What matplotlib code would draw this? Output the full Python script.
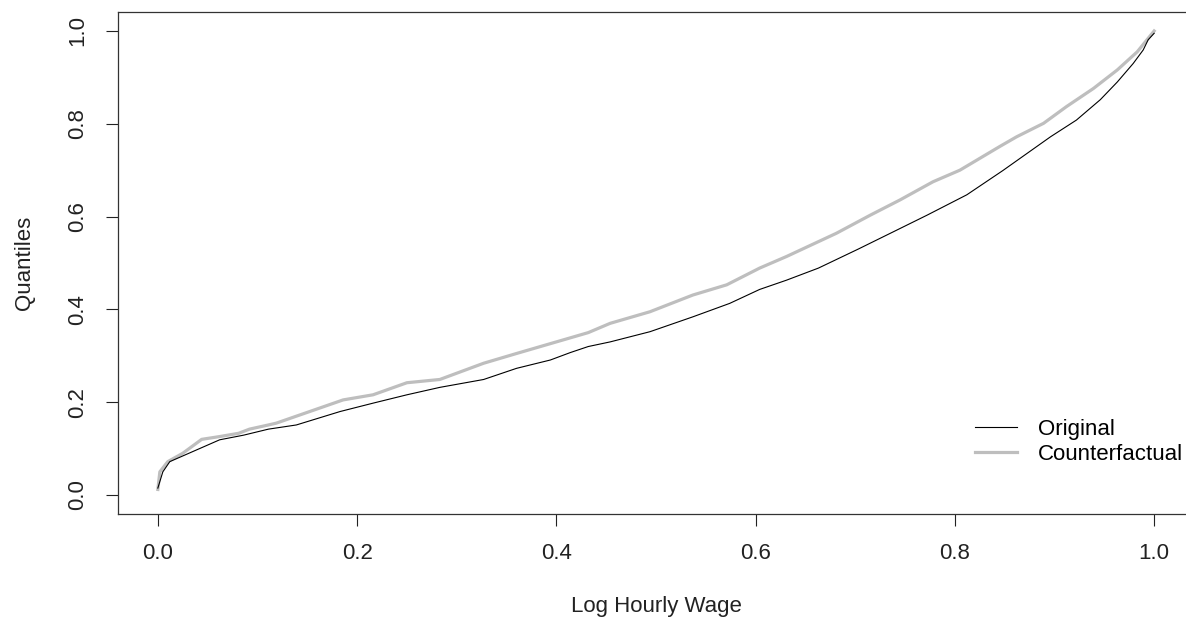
import matplotlib
matplotlib.use("Agg")
import matplotlib.pyplot as plt
import numpy as np

# Quantile curves
orig_x = [0.0, 0.005, 0.012, 0.062, 0.086, 0.111, 0.139, 0.183, 0.216, 0.25,
          0.283, 0.327, 0.36, 0.394, 0.414, 0.432, 0.454, 0.494, 0.537, 0.574,
          0.604, 0.631, 0.663, 0.703, 0.738, 0.772, 0.812, 0.848, 0.896, 0.922,
          0.946, 0.963, 0.979, 0.989, 0.994, 1.0]
orig_q = [0.015, 0.05, 0.072, 0.119, 0.129, 0.142, 0.151, 0.18, 0.198, 0.216,
          0.232, 0.249, 0.273, 0.291, 0.307, 0.32, 0.33, 0.352, 0.384, 0.413,
          0.443, 0.463, 0.489, 0.53, 0.567, 0.603, 0.647, 0.699, 0.772, 0.808,
          0.852, 0.89, 0.93, 0.959, 0.981, 0.995]

cf_x = [0.0, 0.002, 0.01, 0.025, 0.044, 0.062, 0.081, 0.092, 0.111, 0.119,
        0.186, 0.216, 0.25, 0.283, 0.327, 0.36, 0.4, 0.432, 0.454, 0.494,
        0.537, 0.571, 0.604, 0.631, 0.663, 0.681, 0.715, 0.745, 0.778, 0.805,
        0.845, 0.862, 0.889, 0.912, 0.939, 0.963, 0.983, 1.0]
cf_q = [0.012, 0.05, 0.072, 0.09, 0.12, 0.126, 0.133, 0.142, 0.151, 0.155,
        0.205, 0.216, 0.242, 0.249, 0.284, 0.305, 0.33, 0.35, 0.37, 0.395,
        0.431, 0.453, 0.489, 0.514, 0.546, 0.564, 0.603, 0.636, 0.675, 0.7,
        0.751, 0.772, 0.801, 0.837, 0.876, 0.916, 0.955, 1.0]

ticks = [0.0, 0.2, 0.4, 0.6, 0.8, 1.0]

plt.rcParams['font.family'] = ['Liberation Sans', 'DejaVu Sans']

W, H = 1186, 617
FS = 16
fig = plt.figure(figsize=(W / 100, H / 100), dpi=100)
# R style plot region: axis extends 4% beyond data, right edge cut off by the image
ax = fig.add_axes([118 / W, (H - 513.6) / H, (1194 - 118) / W, (513.6 - 12.4) / H])

ax.plot(cf_x, cf_q, color='#BEBEBE', lw=2.3, label='Counterfactual', zorder=2)
ax.plot(orig_x, orig_q, color='black', lw=0.8, label='Original', zorder=3)

ax.set_xlim(-0.04, 1.04)
ax.set_ylim(-0.04, 1.04)
ax.set_xticks(ticks)
ax.set_yticks(ticks)
ax.set_xticklabels([f"{t:.1f}" for t in ticks])
ax.set_yticklabels([f"{t:.1f}" for t in ticks], rotation=90, va='center')
ax.tick_params(direction='out', length=8.6, width=0.8, labelsize=FS,
               colors='#222222')
ax.tick_params(axis='x', pad=12.5)
ax.tick_params(axis='y', pad=13)
for s in ax.spines.values():
    s.set_color('#333333')
    s.set_linewidth(0.9)

ax.set_xlabel('Log Hourly Wage', fontsize=FS, labelpad=23, color='#222222')
ax.set_ylabel('Quantiles', fontsize=FS, labelpad=23, color='#222222')

h, l = ax.get_legend_handles_labels()
ax.legend([h[1], h[0]], [l[1], l[0]], loc='upper left', frameon=False,
          bbox_to_anchor=(975 / W, 1 - 419 / H), bbox_transform=fig.transFigure,
          fontsize=FS, handlelength=1.9, handletextpad=0.95, labelspacing=0.19,
          borderpad=0, borderaxespad=0)

fig.savefig('out.png', dpi=100)
